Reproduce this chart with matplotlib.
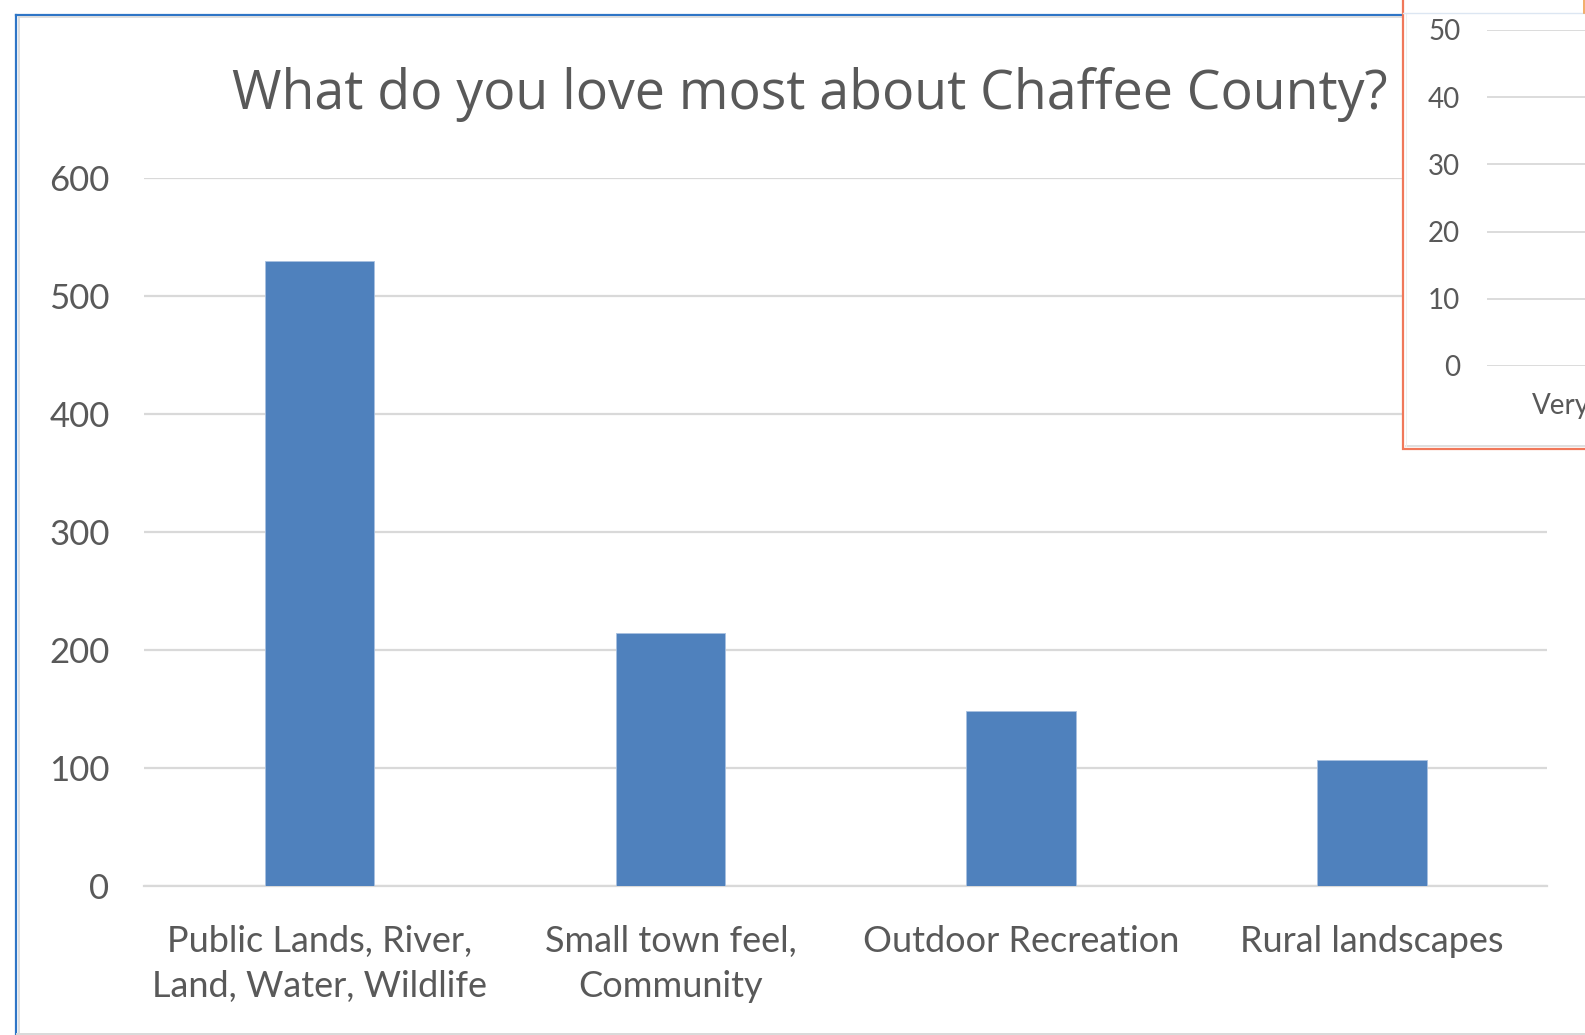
import matplotlib
matplotlib.use("Agg")
import matplotlib.pyplot as plt
from matplotlib.lines import Line2D
from matplotlib.patches import Rectangle

# Survey responses
categories = ["Public Lands, River,\nLand, Water, Wildlife",
              "Small town feel,\nCommunity",
              "Outdoor Recreation",
              "Rural landscapes"]
counts = [530, 214, 148, 107]
y_ticks = [0, 100, 200, 300, 400, 500, 600]
title = "What do you love most about Chaffee County?"

# Neighbouring chart (partly visible)
side_ticks = [0, 10, 20, 30, 40, 50]
side_first_label = "Very"

W, H = 1585, 1035
DPI = 100
TEXT = "#595959"
GRID = "#d9d9d9"
BAR = "#4f81bd"
LABEL_FONT = ["Lato", "DejaVu Sans"]
TITLE_FONT = ["Open Sans", "DejaVu Sans"]


def fx(x):
    return x / W


def fy(y):
    return 1 - y / H


fig = plt.figure(figsize=(W / DPI, H / DPI), dpi=DPI, facecolor="white")

# Main bar chart
x0, x1, y0, y1 = 144.3, 1547.3, 885.7, 178.3
ax = fig.add_axes([fx(x0), fy(y0), fx(x1) - fx(x0), fy(y1) - fy(y0)])
ax.set_zorder(1)
ax.bar(range(len(counts)), counts, width=0.312, color=BAR,
       edgecolor="#a9c1e0", linewidth=0.6, zorder=3)
ax.set_xlim(-0.5, len(counts) - 0.5)
ax.set_ylim(0, 600)
ax.set_yticks(y_ticks)
ax.set_yticklabels([str(v) for v in y_ticks], family=LABEL_FONT,
                   fontsize=25, color=TEXT)
ax.set_xticks(range(len(categories)))
ax.set_xticklabels(categories, family=LABEL_FONT, fontsize=26,
                   color=TEXT, linespacing=1.45)
ax.tick_params(axis="y", length=0, pad=25)
ax.tick_params(axis="x", length=0, pad=28)
ax.yaxis.grid(True, color=GRID, linewidth=1.6, zorder=0)
ax.set_axisbelow(True)
for s in ["top", "right", "left"]:
    ax.spines[s].set_visible(False)
ax.spines["bottom"].set_color(GRID)
ax.spines["bottom"].set_linewidth(1.6)
ax.set_facecolor("none")

fig.text(fx(810), fy(109), title, ha="center", va="baseline",
         family=TITLE_FONT, fontsize=38.6, color=TEXT)

# Chart frame
fig.add_artist(Line2D([fx(15.7), fx(15.7)], [fy(14.7), fy(1040)],
                      color="#2e75c6", linewidth=1.6, zorder=2))
fig.add_artist(Line2D([fx(15.7), fx(1403)], [fy(14.7), fy(14.7)],
                      color="#2e75c6", linewidth=1.6, zorder=2))
fig.add_artist(Line2D([fx(18.5), fx(18.5)], [fy(17), fy(1033)],
                      color=GRID, linewidth=1.2, zorder=2))
fig.add_artist(Line2D([fx(18.5), fx(1403)], [fy(17.2), fy(17.2)],
                      color=GRID, linewidth=1.2, zorder=2))
fig.add_artist(Line2D([fx(17), fx(1585)], [fy(1033.5), fy(1033.5)],
                      color=GRID, linewidth=1.4, zorder=2))

# Neighbouring chart panel overlapping the top-right corner
fig.add_artist(Rectangle((fx(1402.7), fy(449)), fx(1700) - fx(1402.7),
                         fy(-10) - fy(449), facecolor="white",
                         edgecolor="#f0785a", linewidth=1.6, zorder=5))
fig.add_artist(Line2D([fx(1405.5), fx(1585)], [fy(446.3), fy(446.3)],
                      color=GRID, linewidth=1.2, zorder=5.5))
fig.add_artist(Line2D([fx(1405.5), fx(1405.5)], [fy(14), fy(446.3)],
                      color="#eeeeee", linewidth=0.8, zorder=5.5))
fig.add_artist(Line2D([fx(1403), fx(1585)], [fy(13), fy(13)],
                      color="#dce6f2", linewidth=1.0, zorder=5.5))
fig.add_artist(Line2D([fx(1584), fx(1584)], [fy(0), fy(13)],
                      color="#f0a050", linewidth=1.2, zorder=5.5))

sx0, sx1, sy0, sy1 = 1486.7, 1800, 366, 30
ax2 = fig.add_axes([fx(sx0), fy(sy0), fx(sx1) - fx(sx0), fy(sy1) - fy(sy0)])
ax2.set_zorder(6)
ax2.set_facecolor("none")
ax2.set_ylim(0, 50)
ax2.set_xlim(0, 1)
ax2.set_yticks(side_ticks)
ax2.set_yticklabels([str(v) for v in side_ticks], family=LABEL_FONT,
                    fontsize=20, color=TEXT)
ax2.set_xticks([])
ax2.tick_params(axis="y", length=0, pad=19)
ax2.yaxis.grid(True, color=GRID, linewidth=1.3)
for s in ax2.spines.values():
    s.set_visible(False)
fig.text(fx(1531.7), fy(406), side_first_label, ha="left", va="center",
         family=LABEL_FONT, fontsize=20, color=TEXT, zorder=7)

fig.savefig("out.png", dpi=DPI, facecolor="white")
